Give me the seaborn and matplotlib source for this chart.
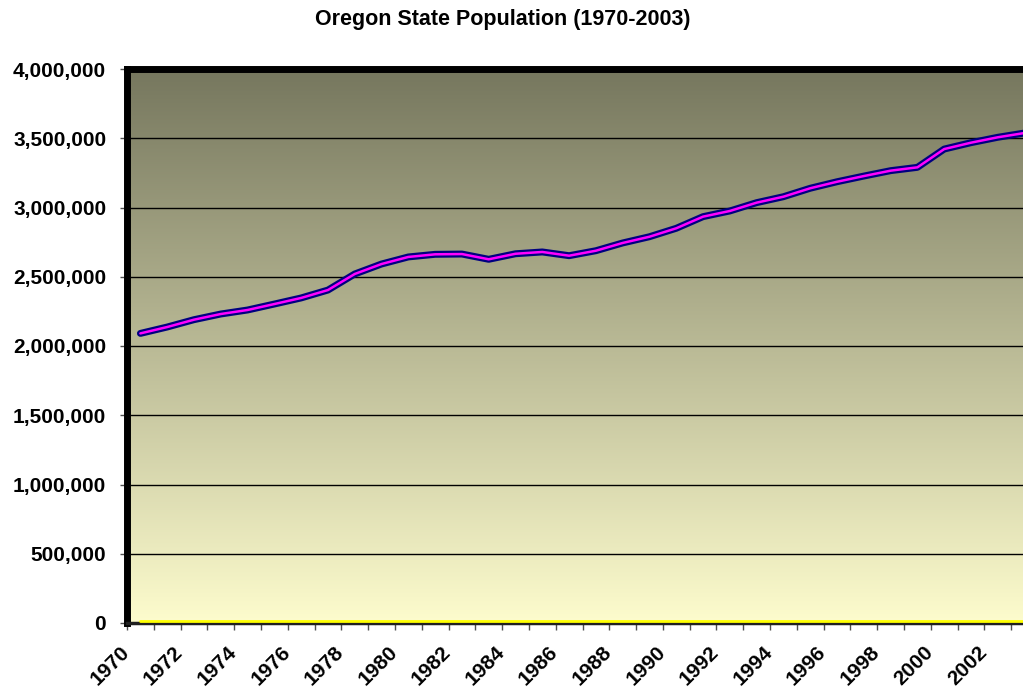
# Oregon State Population (1970-2003) - line chart with gradient plot area

import numpy as np
import pandas as pd
import matplotlib
matplotlib.use("Agg")
import matplotlib.pyplot as plt
import matplotlib.patheffects as pe
import matplotlib.transforms as mtransforms
from matplotlib.colors import LinearSegmentedColormap
from matplotlib.ticker import FuncFormatter, FixedLocator
import seaborn as sns


# ============================================
# Data
# ============================================

years = list(range(1970, 2004))

population = [
    2091000, 2137000, 2190000, 2231000, 2260000,
    2303000, 2347000, 2404000, 2520000, 2592000,
    2643000, 2662000, 2664000, 2626000, 2666000,
    2679000, 2652000, 2688000, 2744000, 2789000,
    2850000, 2934000, 2975000, 3035000, 3078000,
    3139000, 3186000, 3227000, 3266000, 3290000,
    3422000, 3468000, 3507000, 3538000,
]

label_years = years[::2]

title = "Oregon State Population (1970-2003)"


# ============================================
# Style
# ============================================

sns.set_style("white")
plt.rcParams["font.family"] = ["Liberation Sans", "DejaVu Sans"]
plt.rcParams["font.weight"] = "bold"
plt.rcParams["text.color"] = "black"
plt.rcParams["xtick.color"] = "black"
plt.rcParams["ytick.color"] = "black"

df = pd.DataFrame({"Year": years, "Population": population})

fig = plt.figure(figsize=(10.23, 6.95), dpi=100)
ax = fig.add_axes([127 / 1023, 1 - 623 / 695, 911 / 1023, 554 / 695])

# gradient background of the plot area
grad_cmap = LinearSegmentedColormap.from_list(
    "olive", ["#fdfccd", "#76775e"]
)
ax.imshow(
    np.linspace(0, 1, 256).reshape(-1, 1),
    extent=[1969.5, 2003.5, 0, 4000000],
    origin="lower",
    aspect="auto",
    cmap=grad_cmap,
    zorder=0,
)

# horizontal gridlines
for yv in range(500000, 4000001, 500000):
    ax.axhline(yv, color="black", lw=1, zorder=1)

# the line
sns.lineplot(
    data=df,
    x="Year",
    y="Population",
    color="#ff00ff",
    linewidth=1.8,
    ax=ax,
    zorder=3,
    path_effects=[
        pe.Stroke(linewidth=5, foreground="#000080"),
        pe.Normal(),
    ],
)

ax.set_xlim(1969.5, 2003.5)
ax.set_ylim(0, 4000000)
ax.set_xlabel("")
ax.set_ylabel("")

# ============================================
# Axes, ticks and borders
# ============================================

for side in ["left", "top"]:
    ax.spines[side].set_color("black")
    ax.spines[side].set_linewidth(5)
ax.spines["right"].set_visible(False)
ax.spines["bottom"].set_color("#202020")
ax.spines["bottom"].set_linewidth(2.5)
ax.spines["bottom"].set_zorder(4)

# yellow axis line just above the bottom border
up = mtransforms.ScaledTranslation(0, 2 / 100, fig.dpi_scale_trans)
ax.plot([1970, 2003.5], [0, 0], color="#ffff00", lw=2, zorder=5,
        clip_on=False, transform=ax.transData + up)

ax.set_yticks(range(0, 4000001, 500000))
ax.yaxis.set_major_formatter(FuncFormatter(lambda v, p: f"{int(v):,}"))
ax.tick_params(
    axis="y", left=True, length=5, width=1, color="#505050",
    labelcolor="black", pad=10, labelsize=15,
)

ax.xaxis.set_major_locator(FixedLocator(label_years))
ax.set_xticklabels([str(y) for y in label_years])
ax.xaxis.set_minor_locator(FixedLocator([y - 0.5 for y in years] + [2003.5]))
ax.tick_params(axis="x", which="major", bottom=False, length=0,
               pad=19, labelsize=15, labelcolor="black")
ax.tick_params(axis="x", which="minor", bottom=True, length=5,
               width=1, color="#505050")

shift = mtransforms.ScaledTranslation(-14 / 100, 0, fig.dpi_scale_trans)
for lbl in ax.get_xticklabels():
    lbl.set_rotation(45)
    lbl.set_ha("right")
    lbl.set_va("center")
    lbl.set_rotation_mode("anchor")
    lbl.set_transform(lbl.get_transform() + shift)

for lbl in ax.get_yticklabels() + ax.get_xticklabels():
    lbl.set_fontweight("bold")

fig.text(503 / 1023, 1 - 19 / 695, title, ha="center", va="center",
         fontsize=15.5, fontweight="bold", color="black")

fig.savefig("out.png", dpi=100)
